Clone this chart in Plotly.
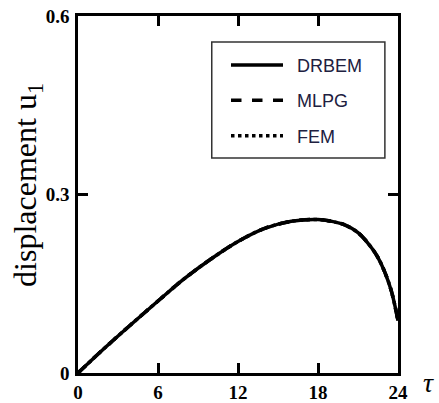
import plotly.graph_objects as go

tau = [0, 2, 4, 6, 8, 10, 12, 14, 16, 18, 19, 20, 21, 22, 22.5, 23, 23.5, 24]
u_drbem = [0, 0.042, 0.082, 0.121, 0.159, 0.192, 0.221, 0.243, 0.255, 0.258, 0.255, 0.249, 0.236, 0.211, 0.194, 0.170, 0.138, 0.088]
u_mlpg = [0, 0.042, 0.082, 0.121, 0.159, 0.192, 0.221, 0.243, 0.255, 0.258, 0.255, 0.249, 0.236, 0.211, 0.194, 0.170, 0.138, 0.088]
u_fem = [0, 0.042, 0.082, 0.121, 0.159, 0.192, 0.221, 0.243, 0.255, 0.258, 0.255, 0.249, 0.236, 0.211, 0.194, 0.170, 0.138, 0.088]
x_ticks = [0, 6, 12, 18, 24]
y_ticks = [0, 0.3, 0.6]
y_ticktext = ["0", "0.3", "0.6"]

fig = go.Figure()
fig.add_trace(go.Scatter(x=tau, y=u_drbem, mode="lines", name="\u2002DRBEM", legendgroup="a",
                         line=dict(color="black", width=3.5, shape="spline")))
fig.add_trace(go.Scatter(x=tau, y=u_mlpg, mode="lines", name="\u2002MLPG", legendgroup="b",
                         line=dict(color="black", width=3.5, dash="dash", shape="spline")))
fig.add_trace(go.Scatter(x=tau, y=u_fem, mode="lines", name="\u2002FEM", legendgroup="c",
                         line=dict(color="black", width=3.5, dash="dot", shape="spline")))

axis_common = dict(showgrid=False, zeroline=False, ticks="inside", ticklen=10, tickwidth=2.5,
                   tickcolor="black", showline=True, linewidth=2.5, linecolor="black",
                   mirror="ticks", automargin=False,
                   tickfont=dict(family="Liberation Serif", size=19, color="black", weight="bold"))

fig.update_layout(
    width=439, height=403,
    margin=dict(l=78, r=41, t=16, b=30),
    paper_bgcolor="white", plot_bgcolor="white",
    xaxis=dict(range=[0, 24], tickvals=x_ticks, ticklabelstandoff=0, **axis_common),
    yaxis=dict(range=[0, 0.6], tickvals=y_ticks, ticktext=y_ticktext, ticklabelstandoff=2, **axis_common),
    showlegend=True,
    legend=dict(x=0.4625, y=0.914, xanchor="left", yanchor="top", bgcolor="rgba(0,0,0,0)",
                font=dict(family="Liberation Sans", size=18, color="#202040"),
                tracegroupgap=9, itemwidth=52),
    shapes=[dict(type="rect", xref="paper", yref="paper", x0=0.418, x1=0.959, y0=0.602, y1=0.927,
                 line=dict(color="#333333", width=1.5))],
    annotations=[
        dict(text="displacement u<sub>1</sub>", xref="paper", yref="paper", x=-0.156, y=0.527,
             xanchor="center", yanchor="middle", textangle=-90, showarrow=False,
             font=dict(family="Liberation Serif", size=32, color="black")),
        dict(text="<i>τ</i>", xref="paper", yref="paper", x=1.094, y=-0.028,
             xanchor="center", yanchor="middle", showarrow=False,
             font=dict(family="Liberation Serif", size=28, color="black")),
    ],
)

fig.write_html("out.html")
